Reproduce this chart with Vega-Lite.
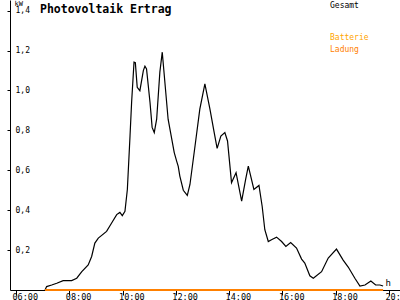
{
  "$schema": "https://vega.github.io/schema/vega-lite/v6.json",
  "width": 390,
  "height": 290,
  "autosize": {"type": "none"},
  "padding": {"left": 10, "top": 0, "right": 0, "bottom": 10},
  "background": "white",
  "title": {
    "text": "Photovoltaik Ertrag",
    "anchor": "start",
    "frame": "group",
    "orient": "top",
    "offset": -17,
    "dx": 30,
    "baseline": "top",
    "font": "DejaVu Sans Mono",
    "fontSize": 11.5,
    "fontWeight": "bold",
    "color": "black"
  },
  "config": {
    "view": {"stroke": null},
    "axis": {"grid": false, "zindex": 0, "domainColor": "black", "tickColor": "black", "labelColor": "black", "titleColor": "black", "labelFont": "DejaVu Sans Mono", "titleFont": "DejaVu Sans Mono"}
  },
  "data": {
    "values": [
      {"t": 7.09, "kW": 0, "s": "Gesamt"},
      {"t": 7.15, "kW": 0.017, "s": "Gesamt"},
      {"t": 7.34, "kW": 0.025, "s": "Gesamt"},
      {"t": 7.53, "kW": 0.034, "s": "Gesamt"},
      {"t": 7.77, "kW": 0.047, "s": "Gesamt"},
      {"t": 8.09, "kW": 0.047, "s": "Gesamt"},
      {"t": 8.28, "kW": 0.059, "s": "Gesamt"},
      {"t": 8.47, "kW": 0.092, "s": "Gesamt"},
      {"t": 8.71, "kW": 0.126, "s": "Gesamt"},
      {"t": 8.84, "kW": 0.168, "s": "Gesamt"},
      {"t": 8.96, "kW": 0.235, "s": "Gesamt"},
      {"t": 9.09, "kW": 0.26, "s": "Gesamt"},
      {"t": 9.4, "kW": 0.294, "s": "Gesamt"},
      {"t": 9.59, "kW": 0.336, "s": "Gesamt"},
      {"t": 9.78, "kW": 0.378, "s": "Gesamt"},
      {"t": 9.9, "kW": 0.389, "s": "Gesamt"},
      {"t": 9.99, "kW": 0.373, "s": "Gesamt"},
      {"t": 10.09, "kW": 0.394, "s": "Gesamt"},
      {"t": 10.18, "kW": 0.504, "s": "Gesamt"},
      {"t": 10.28, "kW": 0.772, "s": "Gesamt"},
      {"t": 10.34, "kW": 0.941, "s": "Gesamt"},
      {"t": 10.43, "kW": 1.142, "s": "Gesamt"},
      {"t": 10.48, "kW": 1.139, "s": "Gesamt"},
      {"t": 10.55, "kW": 1.016, "s": "Gesamt"},
      {"t": 10.65, "kW": 0.999, "s": "Gesamt"},
      {"t": 10.78, "kW": 1.1, "s": "Gesamt"},
      {"t": 10.84, "kW": 1.122, "s": "Gesamt"},
      {"t": 10.9, "kW": 1.108, "s": "Gesamt"},
      {"t": 11.03, "kW": 0.941, "s": "Gesamt"},
      {"t": 11.11, "kW": 0.815, "s": "Gesamt"},
      {"t": 11.19, "kW": 0.789, "s": "Gesamt"},
      {"t": 11.28, "kW": 0.856, "s": "Gesamt"},
      {"t": 11.4, "kW": 1.092, "s": "Gesamt"},
      {"t": 11.49, "kW": 1.192, "s": "Gesamt"},
      {"t": 11.55, "kW": 1.1, "s": "Gesamt"},
      {"t": 11.71, "kW": 0.856, "s": "Gesamt"},
      {"t": 11.94, "kW": 0.689, "s": "Gesamt"},
      {"t": 12.03, "kW": 0.646, "s": "Gesamt"},
      {"t": 12.09, "kW": 0.62, "s": "Gesamt"},
      {"t": 12.15, "kW": 0.571, "s": "Gesamt"},
      {"t": 12.28, "kW": 0.5, "s": "Gesamt"},
      {"t": 12.43, "kW": 0.474, "s": "Gesamt"},
      {"t": 12.53, "kW": 0.529, "s": "Gesamt"},
      {"t": 12.72, "kW": 0.722, "s": "Gesamt"},
      {"t": 12.9, "kW": 0.907, "s": "Gesamt"},
      {"t": 13.09, "kW": 1.033, "s": "Gesamt"},
      {"t": 13.28, "kW": 0.907, "s": "Gesamt"},
      {"t": 13.44, "kW": 0.789, "s": "Gesamt"},
      {"t": 13.55, "kW": 0.71, "s": "Gesamt"},
      {"t": 13.69, "kW": 0.772, "s": "Gesamt"},
      {"t": 13.84, "kW": 0.789, "s": "Gesamt"},
      {"t": 13.94, "kW": 0.747, "s": "Gesamt"},
      {"t": 14.09, "kW": 0.538, "s": "Gesamt"},
      {"t": 14.26, "kW": 0.588, "s": "Gesamt"},
      {"t": 14.47, "kW": 0.445, "s": "Gesamt"},
      {"t": 14.62, "kW": 0.554, "s": "Gesamt"},
      {"t": 14.72, "kW": 0.621, "s": "Gesamt"},
      {"t": 14.93, "kW": 0.504, "s": "Gesamt"},
      {"t": 15.12, "kW": 0.524, "s": "Gesamt"},
      {"t": 15.24, "kW": 0.42, "s": "Gesamt"},
      {"t": 15.34, "kW": 0.302, "s": "Gesamt"},
      {"t": 15.47, "kW": 0.243, "s": "Gesamt"},
      {"t": 15.59, "kW": 0.252, "s": "Gesamt"},
      {"t": 15.78, "kW": 0.265, "s": "Gesamt"},
      {"t": 15.97, "kW": 0.243, "s": "Gesamt"},
      {"t": 16.13, "kW": 0.218, "s": "Gesamt"},
      {"t": 16.31, "kW": 0.238, "s": "Gesamt"},
      {"t": 16.53, "kW": 0.21, "s": "Gesamt"},
      {"t": 16.72, "kW": 0.155, "s": "Gesamt"},
      {"t": 16.84, "kW": 0.135, "s": "Gesamt"},
      {"t": 17.03, "kW": 0.071, "s": "Gesamt"},
      {"t": 17.16, "kW": 0.059, "s": "Gesamt"},
      {"t": 17.47, "kW": 0.092, "s": "Gesamt"},
      {"t": 17.72, "kW": 0.16, "s": "Gesamt"},
      {"t": 18.03, "kW": 0.205, "s": "Gesamt"},
      {"t": 18.28, "kW": 0.15, "s": "Gesamt"},
      {"t": 18.47, "kW": 0.115, "s": "Gesamt"},
      {"t": 18.72, "kW": 0.059, "s": "Gesamt"},
      {"t": 18.91, "kW": 0.02, "s": "Gesamt"},
      {"t": 19.1, "kW": 0.025, "s": "Gesamt"},
      {"t": 19.32, "kW": 0.045, "s": "Gesamt"},
      {"t": 19.5, "kW": 0.025, "s": "Gesamt"},
      {"t": 19.66, "kW": 0.025, "s": "Gesamt"},
      {"t": 19.78, "kW": 0.02, "s": "Gesamt"},
      {"t": 7.09, "kW": 0, "s": "Ladung"},
      {"t": 19.78, "kW": 0, "s": "Ladung"}
    ]
  },
  "transform": [{"calculate": "datum.s", "as": "serie"}],
  "mark": {"type": "line", "interpolate": "linear"},
  "encoding": {
    "x": {
      "field": "t",
      "type": "quantitative",
      "scale": {"domain": [5.775, 20.414], "nice": false, "zero": false},
      "axis": {
        "values": [6, 8, 10, 12, 14, 16, 18, 20],
        "labelExpr": "(datum.value < 10 ? '0' : '') + datum.value + ':00'",
        "tickSize": 5,
        "labelAlign": "left",
        "labelBaseline": "top",
        "labelOffset": -4,
        "labelPadding": -3,
        "labelFontSize": 8.5,
        "labelOverlap": false,
        "title": "h",
        "titleX": 375,
        "titleY": -8,
        "titleAlign": "left",
        "titleBaseline": "middle",
        "titleFontSize": 9,
        "titleFontWeight": "normal"
      }
    },
    "y": {
      "field": "kW",
      "type": "quantitative",
      "scale": {"domain": [0, 1.4536], "nice": false},
      "axis": {
        "values": [0.2, 0.4, 0.6, 0.8, 1.0, 1.2, 1.4],
        "labelExpr": "replace(format(datum.value, '.1f'), '.', ',')",
        "tickSize": 3,
        "labelAlign": "left",
        "labelBaseline": "middle",
        "labelPadding": -8,
        "labelFontSize": 8,
        "title": "kW",
        "titleAngle": 0,
        "titleX": 4,
        "titleY": 3,
        "titleAlign": "left",
        "titleBaseline": "middle",
        "titleFontSize": 7,
        "titleFontWeight": "normal"
      }
    },
    "color": {
      "field": "s",
      "type": "nominal",
      "scale": {"domain": ["Gesamt", "Batterie", "Ladung"], "range": ["black", "#ffa500", "#ff8000"]},
      "legend": {
        "orient": "none",
        "legendX": 312,
        "legendY": -2,
        "values": ["Gesamt"],
        "title": null,
        "padding": 0,
        "symbolSize": 0,
        "symbolOpacity": 0,
        "symbolStrokeWidth": 0,
        "labelOffset": 0,
        "labelFont": "DejaVu Sans Mono",
        "labelFontSize": 8,
        "labelBaseline": "top",
        "labelColor": "black"
      }
    },
    "strokeWidth": {
      "field": "serie",
      "type": "nominal",
      "scale": {"type": "ordinal", "domain": ["Batterie", "Ladung", "Gesamt"], "range": [2, 2, 1.2]},
      "legend": {
        "orient": "none",
        "legendX": 312,
        "legendY": 30,
        "values": ["Batterie", "Ladung"],
        "title": null,
        "padding": 0,
        "symbolSize": 0,
        "symbolOpacity": 0,
        "symbolStrokeWidth": 0,
        "symbolStrokeColor": "transparent",
        "labelOffset": 0,
        "rowPadding": -9,
        "labelFont": "DejaVu Sans Mono",
        "labelFontSize": 8,
        "labelBaseline": "top",
        "labelColor": {"expr": "datum.value == 'Batterie' ? '#ffa500' : '#ff8000'"}
      }
    }
  }
}
